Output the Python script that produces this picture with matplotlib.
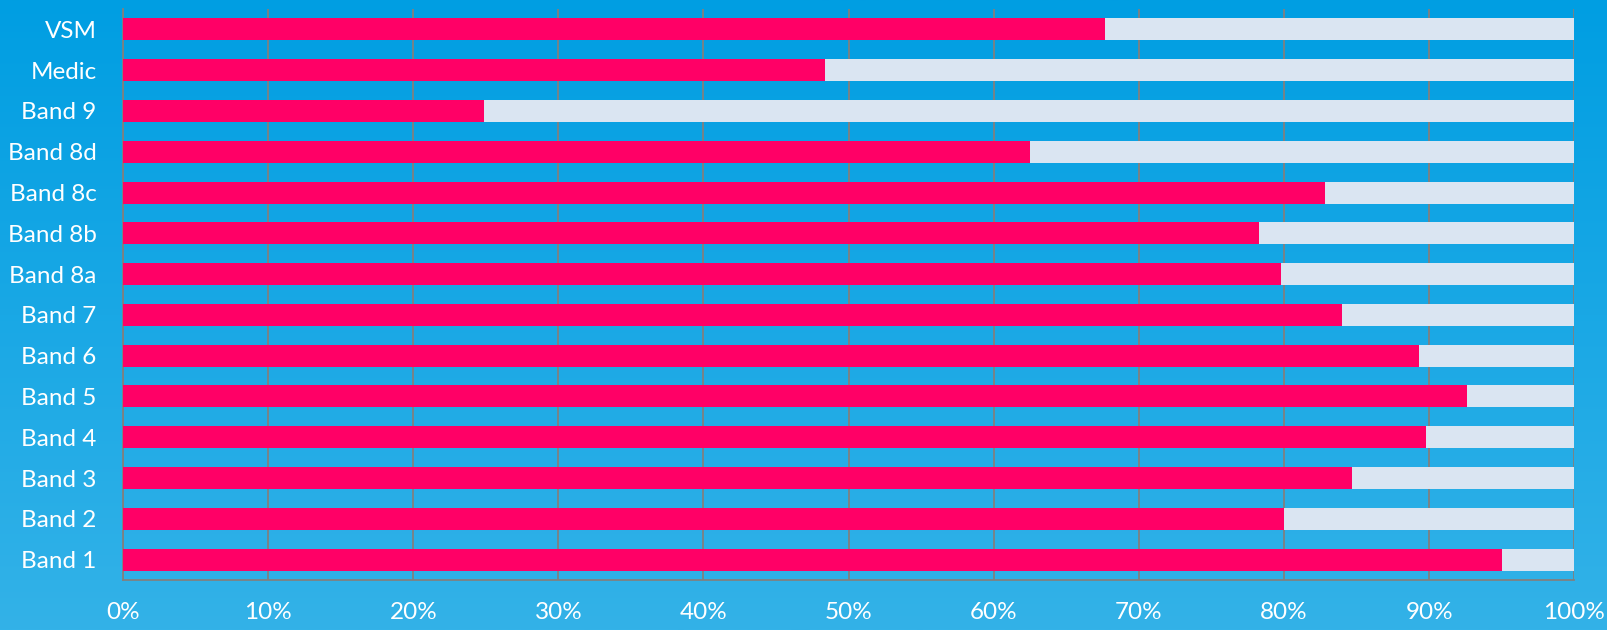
import matplotlib.pyplot as plt
import numpy as np
from matplotlib.colors import LinearSegmentedColormap

categories = ["Band 1", "Band 2", "Band 3", "Band 4", "Band 5", "Band 6", "Band 7",
              "Band 8a", "Band 8b", "Band 8c", "Band 8d", "Band 9", "Medic", "VSM"]
yes_pct = [95.0, 80.0, 84.7, 89.8, 92.6, 89.3, 84.0,
           79.8, 78.3, 82.8, 62.5, 24.9, 48.4, 67.7]
rest_pct = [100 - v for v in yes_pct]
xticks = [0, 10, 20, 30, 40, 50, 60, 70, 80, 90, 100]

plt.rcParams['font.family'] = ['Lato', 'DejaVu Sans']

fig = plt.figure(figsize=(16.08, 6.30), dpi=100)

# background gradient
bg = fig.add_axes([0, 0, 1, 1], zorder=0)
cmap = LinearSegmentedColormap.from_list("bg", ["#009EE2", "#33B2E8"])
grad = np.linspace(0, 1, 256).reshape(-1, 1)
bg.imshow(grad, aspect='auto', cmap=cmap, extent=[0, 1, 0, 1], origin='upper')
bg.axis('off')

ax = fig.add_axes([0.0765, 0.0794, 0.9025, 0.9063], zorder=1)
ax.patch.set_alpha(0)

y = np.arange(len(categories))
ax.barh(y, yes_pct, height=0.54, color="#FF0066", zorder=3)
ax.barh(y, rest_pct, left=yes_pct, height=0.54, color="#DAE5F2", zorder=3)

ax.set_xlim(0, 100)
ax.set_ylim(-0.5, len(categories) - 0.5)
ax.set_xticks(xticks)
ax.set_xticklabels([f"{t}%" for t in xticks])
ax.set_yticks(y)
ax.set_yticklabels(categories)
ax.xaxis.grid(True, color="#808080", linewidth=1.3, zorder=1)
ax.set_axisbelow(True)

for s in ['top', 'right']:
    ax.spines[s].set_visible(False)
for s in ['left', 'bottom']:
    ax.spines[s].set_color("#808080")
    ax.spines[s].set_linewidth(1.3)

ax.tick_params(axis='both', length=0, colors='white', labelsize=17.5)
ax.tick_params(axis='y', pad=19)
ax.tick_params(axis='x', pad=16)

fig.savefig("out.png", dpi=100)
